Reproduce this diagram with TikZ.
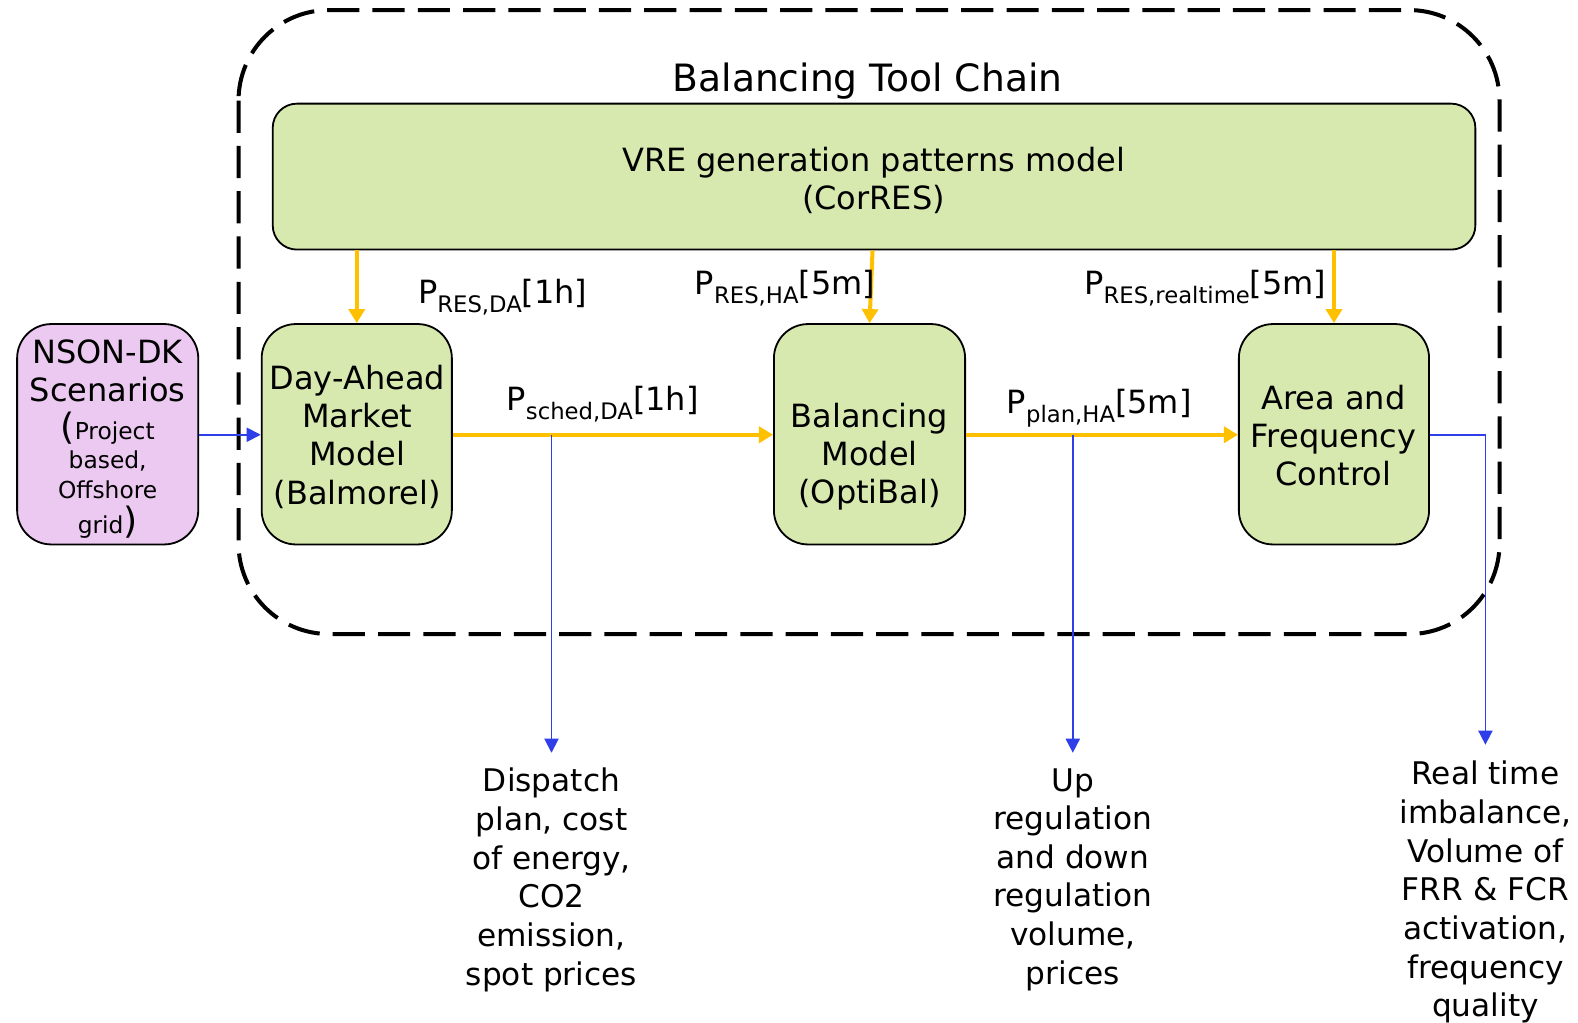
\documentclass[tikz,border=0pt]{standalone}
\usepackage{fontspec}
\setmainfont{DejaVu Sans}
\usetikzlibrary{arrows.meta}
\definecolor{boxgreen}{HTML}{D8E9B0}
\definecolor{boxlav}{HTML}{EBC9F0}
\definecolor{flowor}{HTML}{FFC000}
\definecolor{flowbl}{HTML}{2E3EE8}
\newcommand{\fsz}[2]{\fontsize{#1}{#2}\selectfont}
\newcommand{\psub}[1]{\raisebox{-4.5pt}{\fsz{11.3}{12}#1}}
\tikzset{
  box/.style={draw=black, line width=0.9pt, rounded corners=17pt, fill=boxgreen},
  txt/.style={align=center, inner sep=0pt, font=\fsz{15.9}{19}},
  lbl/.style={anchor=base west, inner sep=0pt, font=\fsz{15.9}{19}},
  outtxt/.style={align=center, inner sep=0pt, anchor=north, font=\fsz{15.5}{19.2}},
  oarrow/.style={draw=flowor, line width=2pt, -{Triangle[width=8pt,length=7pt]}},
  barrow/.style={draw=flowbl, line width=0.9pt, -{Triangle[width=7pt,length=7pt]}},
}
\begin{document}
\begin{tikzpicture}[x=0.5pt,y=-0.5pt]
\useasboundingbox (0,0) rectangle (1568,1016);
% outer dashed frame
\draw[line width=2pt, dash pattern=on 16pt off 6.5pt, rounded corners=45pt] (237,10) rectangle (1490,630);
\node[anchor=base, inner sep=0pt, font=\fsz{18.7}{22}] (title) at (862,91) {Balancing Tool Chain};
% boxes
\node[box, rounded corners=12pt, minimum width=597.5pt, minimum height=72.5pt] (vre) at (868.5,175.5) {};
\node[txt] (vret) at (868,179) {VRE generation patterns model\\(CorRES)};
\node[box, fill=boxlav, minimum width=90pt, minimum height=109.5pt] (nson) at (107,431.5) {};
\node[align=center, inner sep=0pt, anchor=north, font=\fsz{11.6}{19}] (nsont) at (107,337)
  {{\fsz{15.9}{19}NSON-DK}\\{\fsz{15.9}{19}Scenarios}\\{\fsz{18}{19}(}Project\\[-4.5pt]based,\\[-4.5pt]Offshore\\[-1.5pt]grid{\fsz{18}{19})}};
\node[box, minimum width=94.5pt, minimum height=109.5pt] (da) at (354.5,431.5) {};
\node[txt] (dat) at (355,434) {Day-Ahead\\Market\\Model\\(Balmorel)};
\node[box, minimum width=95pt, minimum height=109.5pt] (bal) at (864,431.5) {};
\node[txt] (balt) at (864,454) {Balancing\\Model\\(OptiBal)};
\node[box, minimum width=94.5pt, minimum height=109.5pt] (afc) at (1325.5,431.5) {};
\node[txt] (afct) at (1325,433) {Area and\\Frequency\\Control};
% orange flows
\draw[oarrow] (vre.south -| da) -- (da.north);
\draw[oarrow] ([xshift=1.5pt]vre.south -| bal) -- (bal.north);
\draw[oarrow] (vre.south -| afc) -- (afc.north);
\draw[oarrow] (da.east |- 0,432) -- (bal.west |- 0,432);
\draw[oarrow] (bal.east |- 0,432) -- (afc.west |- 0,432);
% labels
\node[lbl] (l1) at (415,302) {P\psub{RES,DA}[1h]};
\node[lbl] (l2) at (690,293) {P\psub{RES,HA}[5m]};
\node[lbl] (l3) at (1077,293) {P\psub{RES,realtime}[5m]};
\node[lbl] (l4) at (503,408) {P\psub{sched,DA}[1h]};
\node[lbl] (l5) at (1000,411) {P\psub{plan,HA}[5m]};
% outputs
\node[outtxt] (o1) at (548,763) {Dispatch\\plan, cost\\of energy,\\CO2\\emission,\\spot prices};
\node[outtxt] (o2) at (1066,763) {Up\\regulation\\and down\\regulation\\volume,\\prices};
\node[outtxt] (o3) at (1476,756) {Real time\\imbalance,\\Volume of\\FRR \& FCR\\activation,\\frequency\\quality};
\coordinate (b1) at (548,432);
\coordinate (b2) at (1066,432);
\coordinate (b3) at (1476,432);
\coordinate (e1) at (548,748);
\coordinate (e2) at (1066,748);
\coordinate (e3) at (1476,740);
% blue flows
\draw[barrow] (nson.east |- 0,432) -- (da.west |- 0,432);
\draw[barrow] (b1) -- (e1);
\draw[barrow] (b2) -- (e2);
\draw[barrow] (afc.east |- 0,432) -- (b3) -- (e3);
\end{tikzpicture}
\end{document}
